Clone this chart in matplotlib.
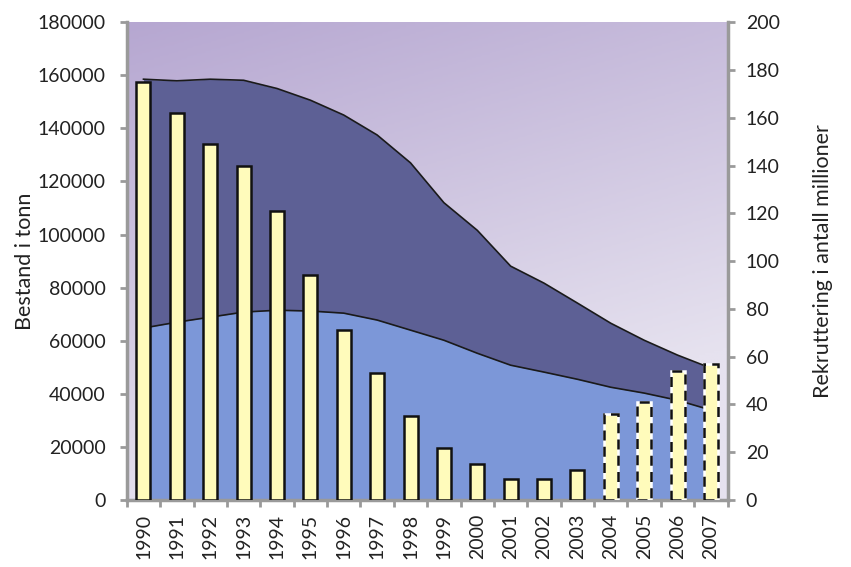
import numpy as np
import matplotlib
matplotlib.use('Agg')
import matplotlib.pyplot as plt
from matplotlib.colors import LinearSegmentedColormap

plt.rcParams['font.family'] = ['Lato', 'DejaVu Sans']

years = [str(y) for y in range(1990, 2008)]
# bestand i tonn
total_stock = [158500, 157900, 158500, 158100, 155000, 150600, 145000, 137500, 127000,
               112000, 101600, 88100, 81700, 74200, 66600, 60200, 54600, 49700]
spawning_stock = [64800, 67000, 68900, 70800, 71500, 71200, 70400, 67800, 64000,
                  60200, 55300, 50800, 48200, 45500, 42500, 40300, 37600, 33900]
# rekruttering i antall millioner
recruitment = [175, 162, 149, 140, 121, 94, 71, 53, 35, 22, 15, 9, 9, 12.5, 36, 41, 54, 57]
first_dashed = 14  # 2004 onwards drawn with dashed outline

left_ticks = list(range(0, 180001, 20000))
right_ticks = list(range(0, 201, 20))

DARK = '#5d6095'
LIGHT = '#7c97d8'
BAR = '#fffbbb'
SPINE = '#9a9a9a'
TXT = '#222222'

fig = plt.figure(figsize=(8.51, 5.67), dpi=100)
ax = fig.add_axes([0.149, 0.118, 0.706, 0.843])
x = np.arange(len(years))

# lavender gradient background: darker at the top, lighter towards lower right
cmap = LinearSegmentedColormap.from_list('bg', ['#b6a7d1', '#e6e2ef'])
u, v = np.meshgrid(np.linspace(0, 1, 200), np.linspace(0, 1, 200))
grad = np.clip((1 - v) * 0.95 + u * 0.35, 0, 1)
ax.imshow(grad, extent=(-0.5, 17.5, 0, 180000), origin='lower', cmap=cmap,
          aspect='auto', zorder=0, vmin=0, vmax=1.0)

ax.fill_between(x, 0, total_stock, color=DARK, zorder=1, linewidth=0)
ax.fill_between(x, 0, spawning_stock, color=LIGHT, zorder=2, linewidth=0)
ax.plot(x, total_stock, color='#1a1a1a', lw=1.2, zorder=3)
ax.plot(x, spawning_stock, color='#1a1a1a', lw=1.2, zorder=3)

ax.set_xlim(-0.5, len(years) - 0.5)
ax.set_ylim(0, 180000)
ax.set_yticks(left_ticks)
ax.set_yticklabels([str(v) for v in left_ticks], fontsize=14, color=TXT)
ax.set_xticks(x)
ax.set_xticklabels(years, rotation=90, fontsize=14, color=TXT)
ax.tick_params(axis='x', length=0, pad=10)
ax.set_xticks(np.arange(-0.5, len(years)), minor=True)
ax.tick_params(axis='x', which='minor', length=5, width=2, color=SPINE)
ax.tick_params(axis='y', length=5, width=2, color=SPINE, pad=10)
ax.set_ylabel('Bestand i tonn', fontsize=15.5, color=TXT, labelpad=2)

for s in ['top', 'right']:
    ax.spines[s].set_visible(False)
for s in ['left', 'bottom']:
    ax.spines[s].set_color(SPINE)
    ax.spines[s].set_linewidth(2.5)

ax2 = ax.twinx()
ax2.patch.set_visible(False)
ax2.set_ylim(0, 200)
ax2.set_yticks(right_ticks)
ax2.set_yticklabels([str(v) for v in right_ticks], fontsize=14, color=TXT)
ax2.tick_params(axis='y', length=5, width=2, color=SPINE, pad=8)
for s in ['top', 'left', 'bottom']:
    ax2.spines[s].set_visible(False)
ax2.spines['right'].set_color(SPINE)
ax2.spines['right'].set_linewidth(2.5)
ax2.set_ylabel('Rekruttering i antall millioner', fontsize=15.5, color=TXT, labelpad=24)

ax2.bar(x[:first_dashed], recruitment[:first_dashed], width=0.42,
        color=BAR, edgecolor='#111111', linewidth=1.8, zorder=4)
ax2.bar(x[first_dashed:], recruitment[first_dashed:], width=0.42,
        color=BAR, edgecolor='white', linewidth=1.8, zorder=4)
ax2.bar(x[first_dashed:], recruitment[first_dashed:], width=0.42,
        color='none', edgecolor='#111111', linewidth=1.8, linestyle=(0, (4, 2.5)), zorder=5)

fig.savefig('out.png', dpi=100)
